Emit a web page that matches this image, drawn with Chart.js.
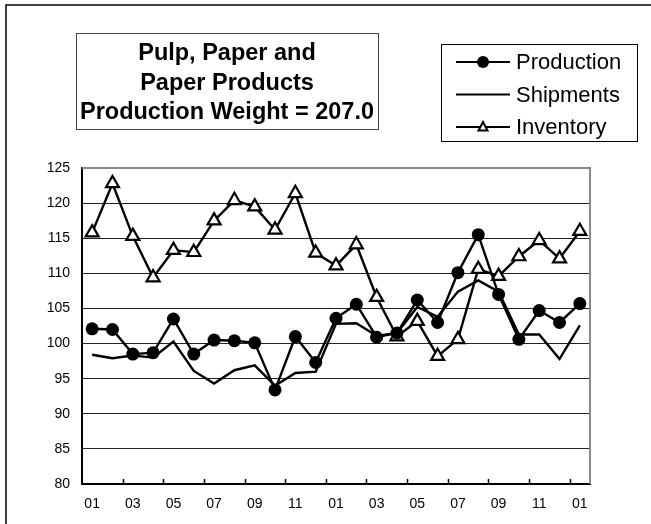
<!DOCTYPE html>
<html>
<head>
<meta charset="utf-8">
<script src="https://cdn.jsdelivr.net/npm/chart.js@4/dist/chart.umd.min.js"></script>
<style>
html,body{margin:0;padding:0;background:#fff;}
#wrap{width:651px;height:524px;position:relative;}
</style>
</head>
<body>
<div id="wrap"><canvas id="c" width="651" height="524"></canvas></div>
<script>
const months = ['01','02','03','04','05','06','07','08','09','10','11','12',
                '01','02','03','04','05','06','07','08','09','10','11','12','01'];
const production = [102.1, 102.0, 98.5, 98.7, 103.5, 98.5, 100.5, 100.4, 100.1, 93.4, 101.0, 97.3,
                    103.6, 105.6, 100.9, 101.5, 106.2, 103.0, 110.1, 115.5, 107.0, 100.6, 104.7, 103.0, 105.7];
const shipments = [98.4, 97.9, 98.3, 98.0, 100.3, 96.1, 94.3, 96.2, 96.9, 94.0, 95.8, 96.0,
                   102.8, 102.9, 101.1, 101.5, 105.2, 103.8, 107.4, 109.0, 107.4, 101.3, 101.3, 97.8, 102.6];
const inventory = [115.8, 122.8, 115.3, 109.4, 113.3, 113.0, 117.5, 120.4, 119.5, 116.2, 121.4, 112.9,
                   111.1, 114.1, 106.6, 101.0, 103.2, 98.2, 100.6, 110.6, 109.6, 112.4, 114.7, 112.1, 116.0];
const seriesNames = ['Production', 'Shipments', 'Inventory'];
const titleLines = ['Pulp, Paper and', 'Paper Products', 'Production Weight = 207.0'];
const yMin = 80, yMax = 125, yStep = 5;

const FONT = "'Liberation Sans', Arial, sans-serif";

const decor = {
  id: 'decor',
  beforeDraw(chart) {
    const ctx = chart.ctx;
    ctx.save();
    ctx.fillStyle = '#fff';
    ctx.fillRect(0, 0, chart.width, chart.height);
    ctx.strokeStyle = '#000';
    ctx.lineWidth = 1.5;
    ctx.beginPath();
    ctx.moveTo(6, chart.height + 2);
    ctx.lineTo(6, 5);
    ctx.lineTo(chart.width + 2, 5);
    ctx.stroke();
    ctx.restore();
  },
  afterDatasetsDraw(chart) {
    const ctx = chart.ctx;
    const a = chart.chartArea;
    const xs = chart.scales.x;
    ctx.save();
    ctx.strokeStyle = '#8a8a8a';
    ctx.lineWidth = 2;
    ctx.beginPath();
    ctx.moveTo(a.left, a.top);
    ctx.lineTo(a.right, a.top);
    ctx.lineTo(a.right, a.bottom);
    ctx.stroke();
    ctx.strokeStyle = '#000';
    ctx.lineWidth = 1.5;
    ctx.beginPath();
    for (let i = 2; i < months.length; i += 2) {
      const x = Math.round((xs.getPixelForValue(i - 1) + xs.getPixelForValue(i)) / 2) + 0.5;
      ctx.moveTo(x, a.bottom);
      ctx.lineTo(x, a.bottom - 5);
    }
    ctx.stroke();
    ctx.restore();
  },
  afterDraw(chart) {
    const ctx = chart.ctx;
    ctx.save();
    ctx.fillStyle = '#fff';
    ctx.fillRect(76, 33, 302, 96);
    ctx.strokeStyle = '#444';
    ctx.lineWidth = 1;
    ctx.strokeRect(76.5, 33.5, 302, 96);
    ctx.fillStyle = '#000';
    ctx.font = 'bold 23.5px ' + FONT;
    ctx.textAlign = 'center';
    ctx.textBaseline = 'alphabetic';
    const baselines = [60, 89.5, 118.5];
    titleLines.forEach((t, i) => ctx.fillText(t, 227, baselines[i]));

    ctx.fillStyle = '#fff';
    ctx.fillRect(441, 44, 196, 97);
    ctx.strokeStyle = '#000';
    ctx.strokeRect(441.5, 44.5, 196, 97);
    const rows = [62, 94.5, 127];
    ctx.font = '22px ' + FONT;
    ctx.textAlign = 'left';
    ctx.textBaseline = 'middle';
    rows.forEach((y, i) => {
      ctx.strokeStyle = '#000';
      ctx.lineWidth = 2;
      ctx.beginPath();
      ctx.moveTo(456, y);
      ctx.lineTo(510, y);
      ctx.stroke();
      if (i === 0) {
        ctx.fillStyle = '#000';
        ctx.beginPath();
        ctx.arc(483, y, 6, 0, Math.PI * 2);
        ctx.fill();
      } else if (i === 2) {
        ctx.fillStyle = '#fff';
        ctx.lineWidth = 2;
        ctx.beginPath();
        ctx.moveTo(483, y - 5);
        ctx.lineTo(487.5, y + 3.5);
        ctx.lineTo(478.5, y + 3.5);
        ctx.closePath();
        ctx.fill();
        ctx.stroke();
      }
      ctx.fillStyle = '#000';
      ctx.fillText(seriesNames[i], 516, y + 1);
    });
    ctx.restore();
  }
};

new Chart(document.getElementById('c'), {
  type: 'line',
  data: {
    labels: months,
    datasets: [
      {
        label: seriesNames[0], data: production,
        borderColor: '#000', borderWidth: 2.4, backgroundColor: '#000',
        pointStyle: 'circle', pointRadius: 6.5, pointBorderWidth: 0,
        pointBackgroundColor: '#000', tension: 0
      },
      {
        label: seriesNames[1], data: shipments,
        borderColor: '#000', borderWidth: 2.4, pointRadius: 0, tension: 0
      },
      {
        label: seriesNames[2], data: inventory,
        borderColor: '#000', borderWidth: 2.4,
        pointStyle: 'triangle', pointRadius: 7.5, pointBorderWidth: 2.2,
        pointBackgroundColor: '#fff', pointBorderColor: '#000', tension: 0
      }
    ]
  },
  options: {
    responsive: false,
    animation: false,
    devicePixelRatio: 1,
    layout: { padding: { left: 0, top: 168, right: 61, bottom: 0 } },
    plugins: { legend: { display: false }, title: { display: false }, tooltip: { enabled: false } },
    scales: {
      x: {
        type: 'category',
        offset: true,
        grid: { display: false, drawOnChartArea: false, drawTicks: false },
        border: { display: true, color: '#000', width: 2 },
        ticks: {
          autoSkip: false, maxRotation: 0, minRotation: 0,
          padding: 12, color: '#000',
          font: { family: FONT, size: 14 },
          callback: function(v, i) { return i % 2 === 0 ? months[i] : ''; }
        },
        afterFit(scale) { scale.height = 40; }
      },
      y: {
        min: yMin, max: yMax,
        grid: { color: '#222', lineWidth: 1, drawTicks: false },
        border: { display: true, color: '#000', width: 2 },
        ticks: {
          stepSize: yStep, padding: 12, color: '#000',
          font: { family: FONT, size: 14 }
        },
        afterFit(scale) { scale.width = 82; }
      }
    }
  },
  plugins: [decor]
});
</script>
</body>
</html>
